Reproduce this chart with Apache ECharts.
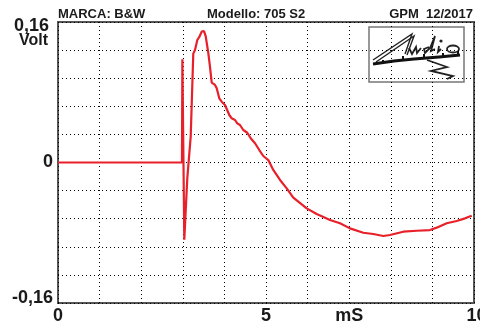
<!DOCTYPE html>
<html>
<head>
<meta charset="utf-8">
<script src="https://cdn.jsdelivr.net/npm/echarts@6/dist/echarts.min.js"></script>
<style>html,body{margin:0;padding:0;background:#fff}#c{width:480px;height:323px}</style>
</head>
<body>
<div id="c"></div>
<script>
// Data (time in ms, amplitude in V)
const timeMs = [0, 2.98, 2.99, 3.036, 3.108, 3.19, 3.252, 3.293, 3.349, 3.397, 3.454, 3.51, 3.55, 3.613, 3.654, 3.695, 3.774, 3.815, 3.877, 3.935, 4.014, 4.118, 4.175, 4.255, 4.31, 4.375, 4.454, 4.55, 4.632, 4.736, 4.839, 4.935, 5.055, 5.175, 5.337, 5.498, 5.656, 5.777, 5.978, 6.219, 6.538, 6.779, 7.019, 7.339, 7.579, 7.82, 7.98, 8.30, 8.623, 8.94, 9.103, 9.344, 9.584, 9.784, 9.945];
const volts = [0, 0, 0.1175, -0.088, -0.018, 0.0294, 0.124, 0.128, 0.1395, 0.143, 0.149, 0.1497, 0.144, 0.1247, 0.109, 0.0909, 0.0883, 0.0845, 0.0731, 0.0692, 0.0655, 0.0541, 0.0503, 0.0484, 0.0446, 0.0427, 0.037, 0.0339, 0.0276, 0.0219, 0.0142, 0.0074, 0.0028, -0.0085, -0.0199, -0.0294, -0.0400, -0.0446, -0.0522, -0.0587, -0.0655, -0.0692, -0.075, -0.080, -0.0814, -0.0837, -0.0826, -0.0788, -0.0777, -0.0769, -0.0742, -0.0692, -0.0666, -0.0636, -0.0606];
const xTickLabels = {0: '0', 5: '5', 7: 'mS', 10: '10'};
const yTickLabels = [[0.16, '0,16', 'Volt'], [0, '0'], [-0.16, '-0,16']];
const headerLeft = 'MARCA: B&W';
const headerMid = 'Modello: 705 S2';
const headerRight = 'GPM  12/2017';

const FONT = "'Liberation Sans', Arial, Helvetica, sans-serif";
const TXT = '#1a1a1a';

const seriesData = timeMs.map((t, i) => [t, volts[i]]);

const chart = echarts.init(document.getElementById('c'), null, {renderer: 'canvas'});

function yFmt(v) {
  for (const e of yTickLabels) {
    if (Math.abs(v - e[0]) < 1e-6) {
      if (e[0] > 0) return '{e| }\n{tt|' + e[1] + '}\n{v|' + e[2] + '}';
      if (e[0] < 0) return '{t|' + e[1] + '}\n{e2| }';
      return '{t|' + e[1] + '}';
    }
  }
  return '';
}
function xFmt(v) {
  const k = Math.round(v);
  if (Math.abs(v - k) > 1e-6 || !(k in xTickLabels)) return '';
  if (k === 10) return '{r|' + xTickLabels[k] + '}';
  return '{x|' + xTickLabels[k] + '}';
}

const logoX = 369, logoY = 27;
function P(pts) { return pts.map(p => [p[0] + logoX, p[1] + logoY]); }

const option = {
  animation: false,
  backgroundColor: '#fff',
  grid: {left: 58, right: 6, top: 22, bottom: 20, containLabel: false, outerBoundsMode: 'none',
    show: true, borderColor: '#555', borderWidth: 2, backgroundColor: 'transparent'},
  xAxis: {
    type: 'value', min: 0, max: 10, interval: 1,
    axisLine: {show: false}, axisTick: {show: false},
    splitLine: {show: true, lineStyle: {color: '#000', width: 1, type: [1, 3]}},
    axisLabel: {
      show: true, margin: 4, formatter: xFmt, color: TXT, hideOverlap: false,
      fontFamily: FONT, fontWeight: 'bold', fontSize: 18,
      rich: {
        x: {fontFamily: FONT, fontWeight: 'bold', fontSize: 18, color: TXT},
        r: {fontFamily: FONT, fontWeight: 'bold', fontSize: 18, color: TXT, padding: [0, 0, 0, 5]}
      }
    }
  },
  yAxis: {
    type: 'value', min: -0.16, max: 0.16, interval: 0.032,
    axisLine: {show: false}, axisTick: {show: false},
    splitLine: {show: true, lineStyle: {color: '#000', width: 1, type: [1, 3]}},
    axisLabel: {
      show: true, margin: 5, formatter: yFmt, color: TXT, hideOverlap: false,
      fontFamily: FONT, fontWeight: 'bold', fontSize: 18,
      rich: {
        t: {fontFamily: FONT, fontWeight: 'bold', fontSize: 18, lineHeight: 15, color: TXT},
        tt: {fontFamily: FONT, fontWeight: 'bold', fontSize: 18, lineHeight: 15, color: TXT, padding: [0, 4, 0, 0]},
        v: {fontFamily: FONT, fontWeight: 'bold', fontSize: 16, lineHeight: 14, color: TXT, padding: [0, 5, 0, 0]},
        e: {fontSize: 10, lineHeight: 22},
        e2: {fontSize: 8, lineHeight: 10}
      }
    }
  },
  series: [{
    type: 'line', data: seriesData, showSymbol: false, symbol: 'none',
    lineStyle: {color: '#e8202a', width: 2.2}, clip: true, z: 5
  }],
  graphic: [
    {type: 'text', left: 58, top: 8, style: {text: headerLeft, font: 'bold 13px ' + FONT, fill: TXT}},
    {type: 'text', left: 207, top: 8, style: {text: headerMid, font: 'bold 13px ' + FONT, fill: TXT}},
    {type: 'text', right: 7, top: 8, style: {text: headerRight, font: 'bold 13px ' + FONT, fill: TXT}},
    {type: 'group', z: 10, children: [
      {type: 'rect', shape: {x: logoX, y: logoY, width: 95, height: 55}, style: {fill: '#fff', stroke: '#777', lineWidth: 1.5}},
      // "A" double stroke
      {type: 'polyline', shape: {points: P([[4, 33], [43, 7], [36, 27]])}, style: {stroke: '#222', lineWidth: 1.4, fill: null}},
      {type: 'polyline', shape: {points: P([[7, 35], [45, 9], [38, 28]])}, style: {stroke: '#222', lineWidth: 1.4, fill: null}},
      // u d i o
      {type: 'polyline', shape: {points: P([[40, 21], [43, 27], [47, 20], [48, 26], [52, 21]])}, style: {stroke: '#222', lineWidth: 1.8, fill: null}},
      {type: 'polyline', shape: {points: P([[60, 20], [55, 22], [56, 26], [61, 21], [66, 9], [62, 24], [66, 22]])}, style: {stroke: '#222', lineWidth: 1.8, fill: null}},
      {type: 'polyline', shape: {points: P([[70, 19], [69, 25], [72, 22]])}, style: {stroke: '#222', lineWidth: 1.8, fill: null}},
      {type: 'circle', shape: {cx: logoX + 72, cy: logoY + 14, r: 1.6}, style: {fill: '#222'}},
      {type: 'ellipse', shape: {cx: logoX + 84, cy: logoY + 22, rx: 6, ry: 3.5}, style: {stroke: '#222', lineWidth: 1.8, fill: null}},
      // base stroke
      {type: 'polyline', shape: {points: P([[4, 37], [25, 34], [45, 32], [70, 30], [91, 28]])}, style: {stroke: '#111', lineWidth: 3, fill: null}},
      {type: 'polyline', shape: {points: P([[14, 36], [14, 33]])}, style: {stroke: '#111', lineWidth: 2}},
      {type: 'polyline', shape: {points: P([[34, 33], [34, 29]])}, style: {stroke: '#111', lineWidth: 2}},
      {type: 'polyline', shape: {points: P([[55, 31], [55, 27]])}, style: {stroke: '#111', lineWidth: 2}},
      {type: 'polyline', shape: {points: P([[74, 30], [74, 26]])}, style: {stroke: '#111', lineWidth: 2}},
      {type: 'polyline', shape: {points: P([[89, 28], [89, 24]])}, style: {stroke: '#111', lineWidth: 2}},
      // swirl
      {type: 'polyline', shape: {points: P([[58, 33], [78, 40], [62, 44], [84, 49], [78, 52]])}, style: {stroke: '#222', lineWidth: 1.8, fill: null}}
    ]}
  ]
};
chart.setOption(option);
</script>
</body>
</html>
